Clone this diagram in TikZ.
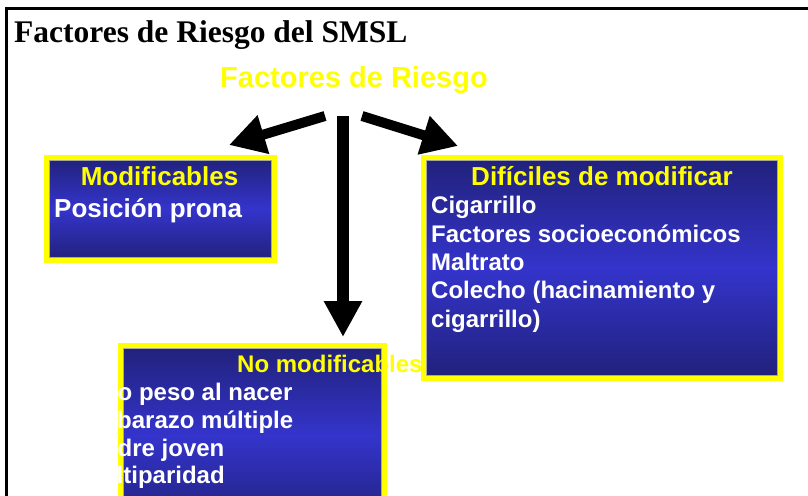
\documentclass[tikz,border=0pt]{standalone}
\usepackage{fontspec}
\setmainfont{Liberation Serif}
\newfontfamily\arialb{Liberation Sans}
\usetikzlibrary{arrows.meta}
\definecolor{boxdark}{RGB}{33,33,122}
\definecolor{boxlight}{RGB}{52,52,204}
\definecolor{ylw}{RGB}{255,255,0}
\tikzset{
  panel/.style={draw=ylw, line width=5pt, inner sep=0pt, outer sep=0pt,
    top color=boxdark, bottom color=boxdark, middle color=boxlight},
  innerline/.style={draw=gray!70, line width=0.7pt},
  head/.style={text=ylw, inner sep=0pt, font=\arialb\bfseries\fontsize{26}{30}\selectfont},
  item/.style={text=white, inner sep=0pt, font=\arialb\bfseries\fontsize{24}{28}\selectfont},
  bigarrow/.style={line width=#1, -{Triangle[width=38pt,length=36pt]}},
  frameline/.style={line width=3pt, black}
}
\begin{document}
\begin{tikzpicture}[x=1pt,y=-1pt]
\useasboundingbox (0,0) rectangle (808,495);
\clip (0,0) rectangle (808,495);
% frame
\coordinate (fl) at (5,8.5);
\coordinate (fr) at (810,8.5);
\coordinate (ft) at (6.5,7);
\coordinate (fb) at (6.5,500);
\draw[frameline] (fl) -- (fr);
\draw[frameline] (ft) -- (fb);
% title
\node[anchor=base west, inner sep=0pt, font=\bfseries\fontsize{31.5}{36}\selectfont] (title) at (14,43) {Factores de Riesgo del SMSL};
\node[head, anchor=base, font=\arialb\bfseries\fontsize{29}{34}\selectfont] (riesgo) at (354,88) {Factores de Riesgo};
% boxes
\node[panel, minimum width=228pt, minimum height=103pt] (mod) at (160.5,209) {};
\node[panel, minimum width=357pt, minimum height=221pt] (dif) at (602,268) {};
\node[panel, minimum width=264pt, minimum height=180pt] (nomod) at (252.5,435.5) {};
\foreach \b in {mod,dif,nomod}
  \draw[innerline] ([shift={(2.9,2.9)}]\b.north west) rectangle ([shift={(-2.9,-2.9)}]\b.south east);
% arrows
\coordinate (la) at (325,116);
\coordinate (lb) at (229,145);
\coordinate (ra) at (362,116);
\coordinate (rb) at (458,146);
\coordinate (da) at (343,116);
\coordinate (db) at (343,337);
\draw[bigarrow=10pt] (la) -- (lb);
\draw[bigarrow=10pt] (ra) -- (rb);
\draw[line width=12pt, -{Triangle[width=36pt,length=36pt]}] (da) -- (db);
% Modificables
\node[head, anchor=base] (modh) at (159.5,185) {Modificables};
\node[head, text=white, anchor=base west] (mod1) at (54,217) {Posición prona};
% Dificiles
\node[head, anchor=base] (difh) at (602,185) {Difíciles de modificar};
\node[item, anchor=base west] (dif1) at (431,213) {Cigarrillo};
\node[item, anchor=base west] (dif2) at (431,242) {Factores socioeconómicos};
\node[item, anchor=base west] (dif3) at (431,270) {Maltrato};
\node[item, anchor=base west] (dif4) at (431,298) {Colecho (hacinamiento y};
\node[item, anchor=base west] (dif5) at (431,327) {cigarrillo)};
% No modificables
\begin{scope}
\clip (117.5,340) rectangle (808,495);
\node[item, anchor=base west] (nm1) at (117.5,400) {o peso al nacer};
\node[item, anchor=base west] (nm2) at (117,428) {barazo múltiple};
\node[item, anchor=base west] (nm3) at (117.5,456) {dre joven};
\node[item, anchor=base west] (nm4) at (116.5,483) {ltiparidad};
\end{scope}
\node[item, text=ylw, anchor=base west] (nomodh) at (237,372) {No modificables};
\end{tikzpicture}
\end{document}
